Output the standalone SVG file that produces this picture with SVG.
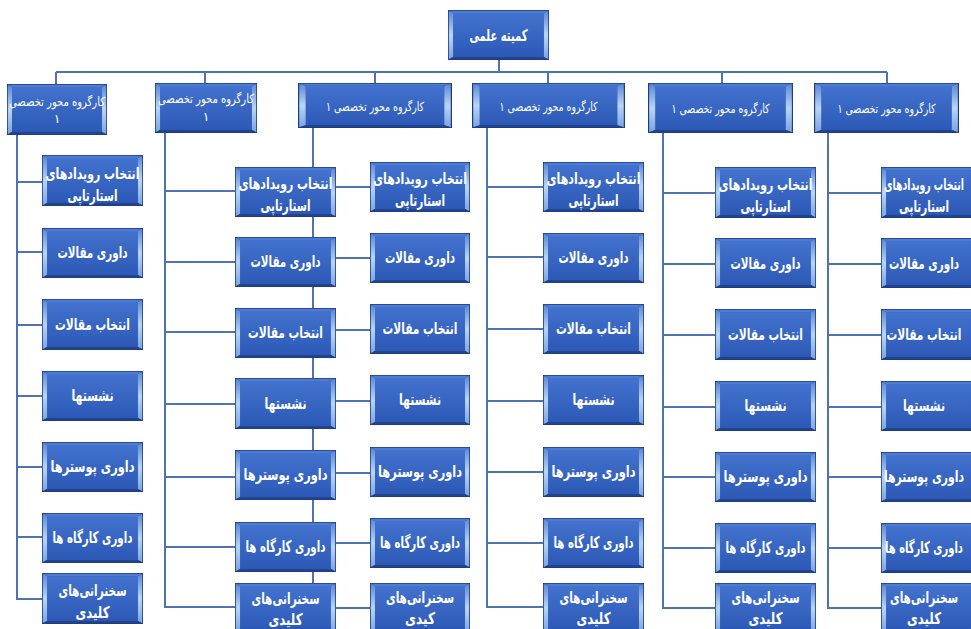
<svg xmlns="http://www.w3.org/2000/svg" xmlns:xlink="http://www.w3.org/1999/xlink" width="971" height="629" viewBox="0 0 971 629">
<defs>
<style>
.t{font-family:'DejaVu Sans','Noto Sans',sans-serif;fill:#ffffff;text-anchor:middle;direction:rtl;dominant-baseline:central}
.b{font-weight:bold;font-size:16px}
.h{font-size:12.5px}
</style>
<linearGradient id="face" x1="0" y1="0" x2="0" y2="1">
<stop offset="0" stop-color="#4373CE"/><stop offset="1" stop-color="#2C59B6"/>
</linearGradient>
<linearGradient id="bev" x1="0" y1="0" x2="0" y2="1">
<stop offset="0" stop-color="#5A88D8"/><stop offset="0.5" stop-color="#B9D5F5"/><stop offset="1" stop-color="#7AA4E4"/>
</linearGradient>
<symbol id="bx" viewBox="0 0 100 50" preserveAspectRatio="none">
<rect x="0" y="0" width="100" height="50" fill="#1E3C80"/>
<rect x="5" y="3" width="90" height="44" fill="url(#face)"/>
<polygon points="0.8,0.8 5,3 5,47 0.8,49.2" fill="url(#bev)"/>
<polygon points="99.2,0.8 95,3 95,47 99.2,49.2" fill="url(#bev)"/>
<polygon points="0.8,0.8 99.2,0.8 95,3 5,3" fill="#4E7CD2"/>
<polygon points="0.8,49.2 99.2,49.2 95,47 5,47" fill="#21448C"/>
</symbol>
</defs>
<rect width="971" height="629" fill="#ffffff"/>

<g id="connectors" fill="none" stroke="#4F72B0" stroke-width="2">
<path d="M56 72 H887 M499 60 V72 M56 72 V84 M205 72 V83 M375 72 V83 M548 72 V83 M722 72 V83 M887 72 V83"/>
<path d="M17 135 V599 H42 M17 182 H42 M17 252 H42 M17 325 H42 M17 396 H42 M17 467 H42 M17 537 H42"/>
<path d="M165 133 V607 H235 M165 191 H235 M165 262 H235 M165 332 H235 M165 404 H235 M165 477 H235 M165 547 H235"/>
<path d="M313 128 V583"/>
<path d="M336 187 H370 M336 258 H370 M336 330 H370 M336 401 H370 M336 473 H370 M336 543 H370 M336 608 H370"/>
<path d="M487 128 V607 H543 M487 187 H543 M487 257 H543 M487 329 H543 M487 401 H543 M487 472 H543 M487 543 H543"/>
<path d="M663 133 V608 H715 M663 193 H715 M663 264 H715 M663 335 H715 M663 407 H715 M663 477 H715 M663 548 H715"/>
<path d="M828 133 V608 H881 M828 193 H881 M828 264 H881 M828 335 H881 M828 407 H881 M828 477 H881 M828 548 H881"/>
</g>

<g id="root"><use xlink:href="#bx" x="448" y="10" width="101" height="50"/><text class="t b" x="498.5" y="35" textLength="58" lengthAdjust="spacingAndGlyphs">کمیته علمی</text></g>

<g id="w1"><use xlink:href="#bx" x="7" y="84" width="100" height="51"/><text class="t h" x="57" y="101" textLength="96" lengthAdjust="spacingAndGlyphs">کارگروه محور تخصصی</text><text class="t h" x="57" y="118">۱</text></g>
<g id="w2"><use xlink:href="#bx" x="155" y="83" width="102" height="50"/><text class="t h" x="206" y="98" textLength="96" lengthAdjust="spacingAndGlyphs">کارگروه محور تخصصی</text><text class="t h" x="206" y="116">۱</text></g>
<g id="w3"><use xlink:href="#bx" x="298" y="83" width="154" height="45"/><text class="t h" x="375" y="106" textLength="98" lengthAdjust="spacingAndGlyphs">کارگروه محور تخصصی ۱</text></g>
<g id="w4"><use xlink:href="#bx" x="472" y="83" width="153" height="45"/><text class="t h" x="548.5" y="106" textLength="98" lengthAdjust="spacingAndGlyphs">کارگروه محور تخصصی ۱</text></g>
<g id="w5"><use xlink:href="#bx" x="648" y="83" width="145" height="50"/><text class="t h" x="720.5" y="108" textLength="98" lengthAdjust="spacingAndGlyphs">کارگروه محور تخصصی ۱</text></g>
<g id="w6"><use xlink:href="#bx" x="814" y="83" width="145" height="50"/><text class="t h" x="886.5" y="108" textLength="98" lengthAdjust="spacingAndGlyphs">کارگروه محور تخصصی ۱</text></g>

<!-- column 1 -->
<g id="c1r1"><use xlink:href="#bx" x="42" y="155" width="101" height="51"/><text class="t b" x="92.5" y="173" textLength="94" lengthAdjust="spacingAndGlyphs">انتخاب رویدادهای</text><text class="t b" x="92.5" y="195" textLength="50" lengthAdjust="spacingAndGlyphs">استارتاپی</text></g>
<g id="c1r2"><use xlink:href="#bx" x="42" y="228" width="101" height="50"/><text class="t b" x="92.5" y="252" textLength="70" lengthAdjust="spacingAndGlyphs">داوری مقالات</text></g>
<g id="c1r3"><use xlink:href="#bx" x="42" y="299" width="101" height="51"/><text class="t b" x="92.5" y="324" textLength="75" lengthAdjust="spacingAndGlyphs">انتخاب مقالات</text></g>
<g id="c1r4"><use xlink:href="#bx" x="42" y="371" width="101" height="50"/><text class="t b" x="92.5" y="395" textLength="42" lengthAdjust="spacingAndGlyphs">نشستها</text></g>
<g id="c1r5"><use xlink:href="#bx" x="42" y="442" width="101" height="50"/><text class="t b" x="92.5" y="466" textLength="84" lengthAdjust="spacingAndGlyphs">داوری پوسترها</text></g>
<g id="c1r6"><use xlink:href="#bx" x="42" y="513" width="101" height="50"/><text class="t b" x="92.5" y="537" textLength="80" lengthAdjust="spacingAndGlyphs">داوری کارگاه ها</text></g>
<g id="c1r7"><use xlink:href="#bx" x="42" y="573" width="101" height="51"/><text class="t b" x="92.5" y="590" textLength="68" lengthAdjust="spacingAndGlyphs">سخنرانی‌های</text><text class="t b" x="92.5" y="612" textLength="34" lengthAdjust="spacingAndGlyphs">کلیدی</text></g>

<!-- column A -->
<g id="car1"><use xlink:href="#bx" x="235" y="167" width="101" height="50"/><text class="t b" x="285.5" y="183" textLength="94" lengthAdjust="spacingAndGlyphs">انتخاب رویدادهای</text><text class="t b" x="285.5" y="205" textLength="50" lengthAdjust="spacingAndGlyphs">استارتاپی</text></g>
<g id="car2"><use xlink:href="#bx" x="235" y="237" width="101" height="50"/><text class="t b" x="285.5" y="261" textLength="70" lengthAdjust="spacingAndGlyphs">داوری مقالات</text></g>
<g id="car3"><use xlink:href="#bx" x="235" y="308" width="101" height="50"/><text class="t b" x="285.5" y="332" textLength="75" lengthAdjust="spacingAndGlyphs">انتخاب مقالات</text></g>
<g id="car4"><use xlink:href="#bx" x="235" y="378" width="101" height="51"/><text class="t b" x="285.5" y="403" textLength="42" lengthAdjust="spacingAndGlyphs">نشستها</text></g>
<g id="car5"><use xlink:href="#bx" x="235" y="450" width="101" height="50"/><text class="t b" x="285.5" y="474" textLength="84" lengthAdjust="spacingAndGlyphs">داوری پوسترها</text></g>
<g id="car6"><use xlink:href="#bx" x="235" y="522" width="101" height="50"/><text class="t b" x="285.5" y="546" textLength="80" lengthAdjust="spacingAndGlyphs">داوری کارگاه ها</text></g>
<g id="car7"><use xlink:href="#bx" x="235" y="583" width="101" height="50"/><text class="t b" x="285.5" y="598" textLength="68" lengthAdjust="spacingAndGlyphs">سخنرانی‌های</text><text class="t b" x="285.5" y="619" textLength="34" lengthAdjust="spacingAndGlyphs">کلیدی</text></g>

<!-- column B -->
<g id="cbr1"><use xlink:href="#bx" x="370" y="162" width="100" height="50"/><text class="t b" x="420" y="178" textLength="94" lengthAdjust="spacingAndGlyphs">انتخاب رویدادهای</text><text class="t b" x="420" y="200" textLength="50" lengthAdjust="spacingAndGlyphs">استارتاپی</text></g>
<g id="cbr2"><use xlink:href="#bx" x="370" y="233" width="100" height="50"/><text class="t b" x="420" y="257" textLength="70" lengthAdjust="spacingAndGlyphs">داوری مقالات</text></g>
<g id="cbr3"><use xlink:href="#bx" x="370" y="304" width="100" height="50"/><text class="t b" x="420" y="328" textLength="75" lengthAdjust="spacingAndGlyphs">انتخاب مقالات</text></g>
<g id="cbr4"><use xlink:href="#bx" x="370" y="375" width="100" height="50"/><text class="t b" x="420" y="399" textLength="42" lengthAdjust="spacingAndGlyphs">نشستها</text></g>
<g id="cbr5"><use xlink:href="#bx" x="370" y="447" width="100" height="50"/><text class="t b" x="420" y="471" textLength="84" lengthAdjust="spacingAndGlyphs">داوری پوسترها</text></g>
<g id="cbr6"><use xlink:href="#bx" x="370" y="518" width="100" height="50"/><text class="t b" x="420" y="542" textLength="80" lengthAdjust="spacingAndGlyphs">داوری کارگاه ها</text></g>
<g id="cbr7"><use xlink:href="#bx" x="370" y="583" width="100" height="50"/><text class="t b" x="420" y="597" textLength="68" lengthAdjust="spacingAndGlyphs">سخنرانی‌های</text><text class="t b" x="420" y="618" textLength="30" lengthAdjust="spacingAndGlyphs">کیدی</text></g>

<!-- column 4 -->
<g id="c4r1"><use xlink:href="#bx" x="543" y="162" width="101" height="50"/><text class="t b" x="593.5" y="178" textLength="94" lengthAdjust="spacingAndGlyphs">انتخاب رویدادهای</text><text class="t b" x="593.5" y="200" textLength="50" lengthAdjust="spacingAndGlyphs">استارتاپی</text></g>
<g id="c4r2"><use xlink:href="#bx" x="543" y="233" width="101" height="50"/><text class="t b" x="593.5" y="257" textLength="70" lengthAdjust="spacingAndGlyphs">داوری مقالات</text></g>
<g id="c4r3"><use xlink:href="#bx" x="543" y="304" width="101" height="50"/><text class="t b" x="593.5" y="328" textLength="75" lengthAdjust="spacingAndGlyphs">انتخاب مقالات</text></g>
<g id="c4r4"><use xlink:href="#bx" x="543" y="375" width="101" height="50"/><text class="t b" x="593.5" y="399" textLength="42" lengthAdjust="spacingAndGlyphs">نشستها</text></g>
<g id="c4r5"><use xlink:href="#bx" x="543" y="447" width="101" height="50"/><text class="t b" x="593.5" y="471" textLength="84" lengthAdjust="spacingAndGlyphs">داوری پوسترها</text></g>
<g id="c4r6"><use xlink:href="#bx" x="543" y="518" width="101" height="50"/><text class="t b" x="593.5" y="542" textLength="80" lengthAdjust="spacingAndGlyphs">داوری کارگاه ها</text></g>
<g id="c4r7"><use xlink:href="#bx" x="543" y="583" width="101" height="50"/><text class="t b" x="593.5" y="597" textLength="68" lengthAdjust="spacingAndGlyphs">سخنرانی‌های</text><text class="t b" x="593.5" y="618" textLength="34" lengthAdjust="spacingAndGlyphs">کلیدی</text></g>

<!-- column 5 -->
<g id="c5r1"><use xlink:href="#bx" x="715" y="167" width="101" height="51"/><text class="t b" x="765.5" y="184" textLength="94" lengthAdjust="spacingAndGlyphs">انتخاب رویدادهای</text><text class="t b" x="765.5" y="206" textLength="50" lengthAdjust="spacingAndGlyphs">استارتاپی</text></g>
<g id="c5r2"><use xlink:href="#bx" x="715" y="238" width="101" height="50"/><text class="t b" x="765.5" y="263" textLength="70" lengthAdjust="spacingAndGlyphs">داوری مقالات</text></g>
<g id="c5r3"><use xlink:href="#bx" x="715" y="309" width="101" height="51"/><text class="t b" x="765.5" y="334" textLength="75" lengthAdjust="spacingAndGlyphs">انتخاب مقالات</text></g>
<g id="c5r4"><use xlink:href="#bx" x="715" y="381" width="101" height="50"/><text class="t b" x="765.5" y="405" textLength="42" lengthAdjust="spacingAndGlyphs">نشستها</text></g>
<g id="c5r5"><use xlink:href="#bx" x="715" y="452" width="101" height="50"/><text class="t b" x="765.5" y="476" textLength="84" lengthAdjust="spacingAndGlyphs">داوری پوسترها</text></g>
<g id="c5r6"><use xlink:href="#bx" x="715" y="523" width="101" height="50"/><text class="t b" x="765.5" y="547" textLength="80" lengthAdjust="spacingAndGlyphs">داوری کارگاه ها</text></g>
<g id="c5r7"><use xlink:href="#bx" x="715" y="583" width="101" height="50"/><text class="t b" x="765.5" y="597" textLength="68" lengthAdjust="spacingAndGlyphs">سخنرانی‌های</text><text class="t b" x="765.5" y="618" textLength="34" lengthAdjust="spacingAndGlyphs">کلیدی</text></g>

<!-- column 6 -->
<g id="c6r1"><use xlink:href="#bx" x="881" y="167" width="101" height="51"/><text class="t b" x="924" y="184" textLength="80" lengthAdjust="spacingAndGlyphs">انتخاب رویدادهای</text><text class="t b" x="924" y="206" textLength="50" lengthAdjust="spacingAndGlyphs">استارتاپی</text></g>
<g id="c6r2"><use xlink:href="#bx" x="881" y="238" width="101" height="50"/><text class="t b" x="924" y="263" textLength="70" lengthAdjust="spacingAndGlyphs">داوری مقالات</text></g>
<g id="c6r3"><use xlink:href="#bx" x="881" y="309" width="101" height="51"/><text class="t b" x="924" y="334" textLength="75" lengthAdjust="spacingAndGlyphs">انتخاب مقالات</text></g>
<g id="c6r4"><use xlink:href="#bx" x="881" y="381" width="101" height="50"/><text class="t b" x="924" y="405" textLength="42" lengthAdjust="spacingAndGlyphs">نشستها</text></g>
<g id="c6r5"><use xlink:href="#bx" x="881" y="452" width="101" height="50"/><text class="t b" x="924" y="476" textLength="80" lengthAdjust="spacingAndGlyphs">داوری پوسترها</text></g>
<g id="c6r6"><use xlink:href="#bx" x="881" y="523" width="101" height="50"/><text class="t b" x="924" y="547" textLength="78" lengthAdjust="spacingAndGlyphs">داوری کارگاه ها</text></g>
<g id="c6r7"><use xlink:href="#bx" x="881" y="583" width="101" height="50"/><text class="t b" x="924" y="597" textLength="68" lengthAdjust="spacingAndGlyphs">سخنرانی‌های</text><text class="t b" x="924" y="618" textLength="34" lengthAdjust="spacingAndGlyphs">کلیدی</text></g>
</svg>
